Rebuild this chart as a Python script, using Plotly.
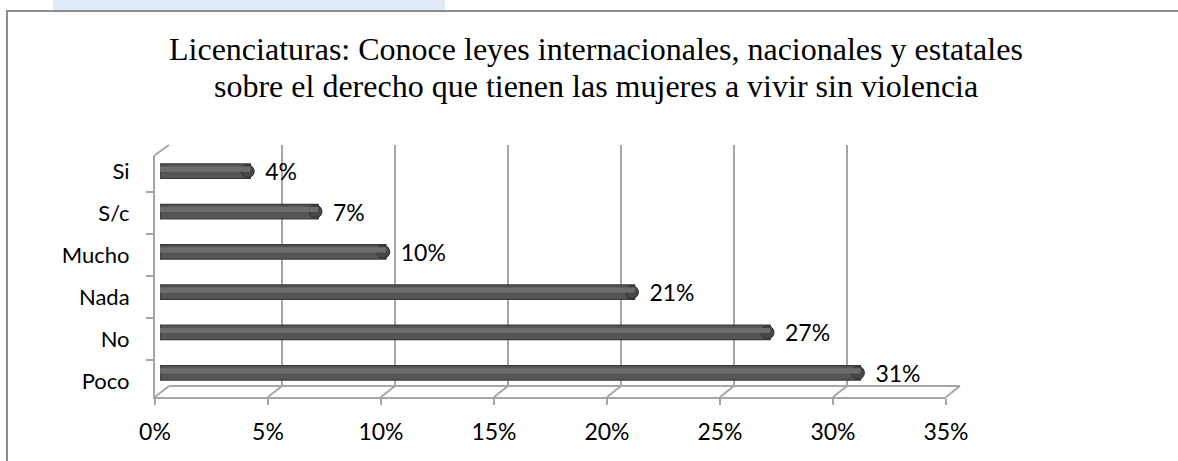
import plotly.graph_objects as go

# ---- data ----
categories = ["Poco", "No", "Nada", "Mucho", "S/c", "Si"]
values = [31, 27, 21, 10, 7, 4]
x_ticks = [0, 5, 10, 15, 20, 25, 30, 35]
x_ticklabels = ["0%", "5%", "10%", "15%", "20%", "25%", "30%", "35%"]
title_lines = ["Licenciaturas: Conoce leyes internacionales, nacionales y estatales",
               "sobre el derecho que tienen las mujeres a vivir sin violencia"]

W, H = 1178, 461
L, R, T, B = 150, 965, 140, 405   # plot area in pixels
PW, PH = R - L, B - T

def px(xp):
    return (xp - L) / PW

def py(yp):
    return (B - yp) / PH

# front axis: 0 at 155, 35 at 946 ; back wall: 0 at 169, 35 at 960
FX0, FX1, BX0, BX1 = 155, 946, 169, 960
FY, BY, TOPY, CATTOP = 397, 386, 145, 155
GRID = "#a6a6a6"
CAT_FONT = dict(family="Lato, Calibri, sans-serif", size=22, color="#000000")
NUM_FONT = dict(family="Lato, Calibri, sans-serif", size=23, color="#000000")
NB = "\u00a0"

fig = go.Figure()

# back wall gridlines (x2/y2)
fig.add_trace(go.Scatter(x=[0], y=[0], xaxis="x2", yaxis="y2", mode="markers",
                         marker=dict(opacity=0), hoverinfo="skip", showlegend=False))

# front axis anchor trace (x/y) for category labels
fig.add_trace(go.Scatter(x=[0] * len(categories), y=categories, mode="markers",
                         marker=dict(opacity=0), hoverinfo="skip", showlegend=False))

# bars (x3/y3)
fig.add_trace(go.Bar(
    y=categories, x=values, orientation="h", xaxis="x3", yaxis="y3",
    width=0.36,
    marker=dict(color="#555555", line=dict(color="#3a3a3a", width=1.2)),
    text=[NB * 2 + "%d%%" % v for v in values], textposition="outside",
    constraintext="none",
    textfont=NUM_FONT, cliponaxis=False, showlegend=False, hoverinfo="skip",
))
# soft highlight to mimic cylinder shading
fig.add_trace(go.Bar(
    y=categories, x=values, orientation="h", xaxis="x3", yaxis="y4",
    width=0.13, marker=dict(color="#6c6c6c", line=dict(width=0)),
    showlegend=False, hoverinfo="skip",
))
# rounded end caps
fig.add_trace(go.Scatter(
    y=categories, x=[v - 0.12 for v in values], xaxis="x3", yaxis="y3", mode="markers",
    marker=dict(symbol="circle", size=13, color="#474747",
                line=dict(color="#2e2e2e", width=1)),
    showlegend=False, hoverinfo="skip", cliponaxis=False,
))

shapes = []
# floor diagonals
for v in x_ticks:
    fx = FX0 + v * (FX1 - FX0) / 35
    bx = BX0 + v * (BX1 - BX0) / 35
    shapes.append(dict(type="line", xref="paper", yref="paper",
                       x0=px(fx), y0=py(FY), x1=px(bx), y1=py(BY),
                       line=dict(color=GRID, width=2)))
# back floor edge
shapes.append(dict(type="line", xref="paper", yref="paper",
                   x0=px(BX0), y0=py(BY), x1=px(BX1), y1=py(BY),
                   line=dict(color=GRID, width=2)))
# left wall top diagonal
shapes.append(dict(type="line", xref="paper", yref="paper",
                   x0=px(FX0), y0=py(CATTOP), x1=px(BX0), y1=py(TOPY),
                   line=dict(color=GRID, width=2)))
# outer frame
shapes.append(dict(type="path", xref="paper", yref="paper",
                   path="M %f %f L %f %f L %f %f" % (px(7), py(470), px(7), py(11), px(1190), py(11)),
                   line=dict(color="#8c8c8c", width=2)))
# faint background strip above the frame
shapes.append(dict(type="rect", xref="paper", yref="paper", layer="below",
                   x0=px(53), y0=py(0), x1=px(445), y1=py(10),
                   fillcolor="#dfe9f8", line=dict(width=0)))

TITLE_FONT = dict(family="Liberation Serif, Times New Roman, serif", size=32, color="#000000")

fig.update_layout(
    width=W, height=H,
    margin=dict(l=L, r=W - R, t=T, b=H - B, autoexpand=False),
    paper_bgcolor="white", plot_bgcolor="rgba(0,0,0,0)",
    showlegend=False, bargap=0.5, barmode="overlay",
    shapes=shapes,
    xaxis=dict(domain=[px(FX0), px(FX1)], range=[0, 35], anchor="y", automargin=False,
               tickvals=x_ticks, ticktext=x_ticklabels, showgrid=False, zeroline=False,
               showline=True, linecolor=GRID, linewidth=2,
               ticks="outside", ticklen=6, tickcolor=GRID, tickwidth=2,
               ticklabelstandoff=7,
               tickfont=NUM_FONT, fixedrange=True),
    yaxis=dict(domain=[py(FY), py(CATTOP)], type="category", categoryorder="array",
               categoryarray=categories, anchor="x", showgrid=False, zeroline=False,
               automargin=False, showline=True, linecolor=GRID, linewidth=2,
               ticks="outside", ticklen=7, tickcolor=GRID, tickwidth=2,
               ticklabelstandoff=19,
               tickson="boundaries", tickfont=CAT_FONT, fixedrange=True),
    xaxis2=dict(domain=[px(BX0), px(BX1)], range=[0, 35], anchor="y2", dtick=5,
                showgrid=True, gridcolor=GRID, gridwidth=2, zeroline=False, automargin=False,
                showticklabels=False, showline=False, fixedrange=True),
    yaxis2=dict(domain=[py(BY), py(TOPY)], range=[0, 1], anchor="x2", automargin=False,
                showgrid=False, zeroline=False, showticklabels=False, fixedrange=True),
    xaxis3=dict(domain=[px(160), px(160 + FX1 - FX0)], range=[0, 35], anchor="y3",
                visible=False, fixedrange=True, automargin=False),
    yaxis3=dict(domain=[py(FY - 4), py(CATTOP - 4)], type="category", categoryorder="array",
                categoryarray=categories, anchor="x3", visible=False,
                fixedrange=True, automargin=False),
    yaxis4=dict(domain=[py(FY - 6), py(CATTOP - 6)], type="category", categoryorder="array",
                categoryarray=categories, anchor="x3", visible=False,
                fixedrange=True, automargin=False),
    annotations=[
        dict(text=title_lines[0], xref="paper", yref="paper", x=px(596), y=py(49),
             xanchor="center", yanchor="middle", showarrow=False, font=TITLE_FONT),
        dict(text=title_lines[1], xref="paper", yref="paper", x=px(596), y=py(86),
             xanchor="center", yanchor="middle", showarrow=False, font=TITLE_FONT),
    ],
)

fig.write_html("out.html", config={"displayModeBar": False, "staticPlot": True},
               post_script="document.body.style.margin='0';document.body.style.overflow='hidden';")
